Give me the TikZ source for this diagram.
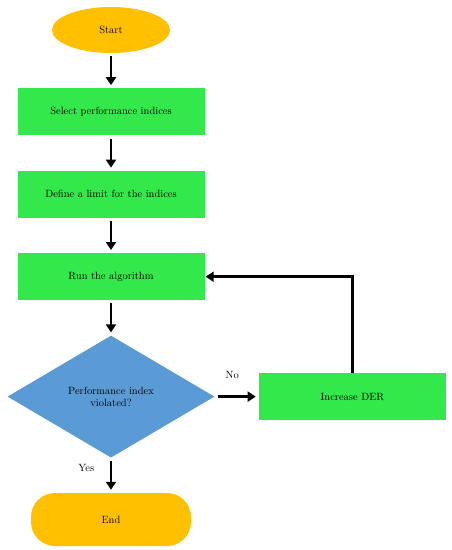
\documentclass[tikz,border=0pt]{standalone}
\usepackage{xcolor}
\usetikzlibrary{arrows.meta, positioning, shapes.geometric}
\definecolor{termorange}{HTML}{FFC000}
\definecolor{stepgreen}{HTML}{33E84A}
\definecolor{checkblue}{HTML}{5B9BD5}
\tikzset{
  terminal/.style={
    ellipse, fill=termorange, draw=none,
    minimum width=118pt, minimum height=46pt,
    align=center, font=\fontsize{10.5}{12.5}\selectfont
  },
  stadium/.style={
    rectangle, rounded corners=24pt, fill=termorange, draw=none,
    minimum width=160pt, minimum height=53pt,
    align=center, font=\fontsize{10.5}{12.5}\selectfont
  },
  stepbox/.style={
    rectangle, fill=stepgreen, draw=none,
    minimum width=187pt, minimum height=47pt,
    align=center, font=\fontsize{10.5}{12.5}\selectfont
  },
  decision/.style={
    diamond, fill=checkblue, draw=none, inner sep=0pt,
    minimum width=207pt, minimum height=122pt,
    align=center, font=\fontsize{10.5}{12.5}\selectfont
  },
  note/.style={font=\fontsize{10.5}{12.5}\selectfont},
  flowarrow/.style={-{Triangle[length=8pt,width=10pt]}, line width=2.8pt, draw=black,
                    shorten <=3pt, shorten >=3pt},
}
\begin{document}
\begin{tikzpicture}[node distance=35pt]
  \useasboundingbox[fill=white] (0,0) rectangle (452pt,-550pt);
  \node[terminal] (start) at (111pt,-30pt) {Start};
  \node[stepbox, below=of start] (select) {Select performance indices};
  \node[stepbox, below=of select] (limit) {Define a limit for the indices};
  \node[stepbox, below=of limit] (run) {Run the algorithm};
  \node[decision, below=of run] (check) {Performance index\\violated?};
  \node[stepbox, right=44pt of check] (der) {Increase DER};
  \node[stadium, below=of check] (end) {End};

  \draw[flowarrow] (start) -- (select);
  \draw[flowarrow] (select) -- (limit);
  \draw[flowarrow] (limit) -- (run);
  \draw[flowarrow] (run) -- (check);
  \draw[flowarrow] (check) -- (der)
    node[note, pos=0.4, above=13pt] {No};
  \draw[flowarrow] (check) -- (end)
    node[note, pos=0.3, left=12pt] {Yes};

  % loop back
  \draw[flowarrow, shorten <=0pt, shorten >=1pt] (der.north) |- (run.east);
\end{tikzpicture}
\end{document}
